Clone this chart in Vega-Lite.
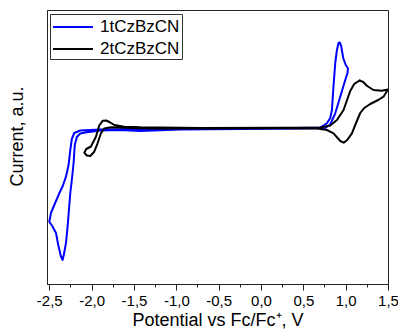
{
  "$schema": "https://vega.github.io/schema/vega-lite/v6.json",
  "width": 341,
  "height": 274,
  "autosize": {"type": "none"},
  "padding": {"left": 47, "top": 10, "right": 10, "bottom": 47},
  "config": {
    "view": {"stroke": "#222", "strokeWidth": 1},
    "font": "Liberation Sans"
  },
  "datasets": {
    "cv": [
      {"s": "1tCzBzCN", "i": 1, "v": -0.717, "c": 0.0},
      {"s": "1tCzBzCN", "i": 2, "v": 0.227, "c": 0.02},
      {"s": "1tCzBzCN", "i": 3, "v": 0.7, "c": 0.1},
      {"s": "1tCzBzCN", "i": 4, "v": 0.779, "c": 0.52},
      {"s": "1tCzBzCN", "i": 5, "v": 0.818, "c": 1.05},
      {"s": "1tCzBzCN", "i": 6, "v": 0.838, "c": 1.85},
      {"s": "1tCzBzCN", "i": 7, "v": 0.853, "c": 3.85},
      {"s": "1tCzBzCN", "i": 8, "v": 0.877, "c": 6.55},
      {"s": "1tCzBzCN", "i": 9, "v": 0.897, "c": 7.85},
      {"s": "1tCzBzCN", "i": 10, "v": 0.916, "c": 8.55},
      {"s": "1tCzBzCN", "i": 11, "v": 0.93, "c": 8.6},
      {"s": "1tCzBzCN", "i": 12, "v": 0.947, "c": 8.25},
      {"s": "1tCzBzCN", "i": 13, "v": 0.971, "c": 7.05},
      {"s": "1tCzBzCN", "i": 14, "v": 1.001, "c": 6.35},
      {"s": "1tCzBzCN", "i": 15, "v": 1.027, "c": 6.02},
      {"s": "1tCzBzCN", "i": 16, "v": 1.022, "c": 5.55},
      {"s": "1tCzBzCN", "i": 17, "v": 0.995, "c": 4.85},
      {"s": "1tCzBzCN", "i": 18, "v": 0.936, "c": 3.18},
      {"s": "1tCzBzCN", "i": 19, "v": 0.877, "c": 1.52},
      {"s": "1tCzBzCN", "i": 20, "v": 0.818, "c": 0.4},
      {"s": "1tCzBzCN", "i": 21, "v": 0.759, "c": 0.05},
      {"s": "1tCzBzCN", "i": 22, "v": 0.463, "c": 0.0},
      {"s": "1tCzBzCN", "i": 23, "v": -0.245, "c": -0.05},
      {"s": "1tCzBzCN", "i": 24, "v": -0.953, "c": -0.1},
      {"s": "1tCzBzCN", "i": 25, "v": -1.426, "c": -0.25},
      {"s": "1tCzBzCN", "i": 26, "v": -1.662, "c": -0.15},
      {"s": "1tCzBzCN", "i": 27, "v": -1.898, "c": -0.2},
      {"s": "1tCzBzCN", "i": 28, "v": -2.075, "c": -0.4},
      {"s": "1tCzBzCN", "i": 29, "v": -2.134, "c": -0.5},
      {"s": "1tCzBzCN", "i": 30, "v": -2.175, "c": -0.85},
      {"s": "1tCzBzCN", "i": 31, "v": -2.199, "c": -1.65},
      {"s": "1tCzBzCN", "i": 32, "v": -2.213, "c": -3.45},
      {"s": "1tCzBzCN", "i": 33, "v": -2.234, "c": -5.15},
      {"s": "1tCzBzCN", "i": 34, "v": -2.252, "c": -6.45},
      {"s": "1tCzBzCN", "i": 35, "v": -2.284, "c": -9.85},
      {"s": "1tCzBzCN", "i": 36, "v": -2.303, "c": -11.45},
      {"s": "1tCzBzCN", "i": 37, "v": -2.329, "c": -12.65},
      {"s": "1tCzBzCN", "i": 38, "v": -2.343, "c": -13.15},
      {"s": "1tCzBzCN", "i": 39, "v": -2.364, "c": -12.75},
      {"s": "1tCzBzCN", "i": 40, "v": -2.394, "c": -11.65},
      {"s": "1tCzBzCN", "i": 41, "v": -2.421, "c": -10.45},
      {"s": "1tCzBzCN", "i": 42, "v": -2.465, "c": -9.75},
      {"s": "1tCzBzCN", "i": 43, "v": -2.5, "c": -9.32},
      {"s": "1tCzBzCN", "i": 44, "v": -2.48, "c": -8.45},
      {"s": "1tCzBzCN", "i": 45, "v": -2.441, "c": -7.65},
      {"s": "1tCzBzCN", "i": 46, "v": -2.382, "c": -6.48},
      {"s": "1tCzBzCN", "i": 47, "v": -2.341, "c": -5.75},
      {"s": "1tCzBzCN", "i": 48, "v": -2.303, "c": -4.82},
      {"s": "1tCzBzCN", "i": 49, "v": -2.272, "c": -3.65},
      {"s": "1tCzBzCN", "i": 50, "v": -2.252, "c": -2.15},
      {"s": "1tCzBzCN", "i": 51, "v": -2.234, "c": -1.05},
      {"s": "1tCzBzCN", "i": 52, "v": -2.205, "c": -0.45},
      {"s": "1tCzBzCN", "i": 53, "v": -2.134, "c": -0.2},
      {"s": "1tCzBzCN", "i": 54, "v": -1.898, "c": -0.1},
      {"s": "1tCzBzCN", "i": 55, "v": -1.426, "c": -0.05},
      {"s": "1tCzBzCN", "i": 56, "v": -0.717, "c": 0.0},
      {"s": "2tCzBzCN", "i": 1, "v": -0.717, "c": 0.05},
      {"s": "2tCzBzCN", "i": 2, "v": 0.227, "c": 0.07},
      {"s": "2tCzBzCN", "i": 3, "v": 0.7, "c": 0.1},
      {"s": "2tCzBzCN", "i": 4, "v": 0.818, "c": 0.3},
      {"s": "2tCzBzCN", "i": 5, "v": 0.897, "c": 0.85},
      {"s": "2tCzBzCN", "i": 6, "v": 0.975, "c": 1.85},
      {"s": "2tCzBzCN", "i": 7, "v": 1.054, "c": 3.75},
      {"s": "2tCzBzCN", "i": 8, "v": 1.101, "c": 4.45},
      {"s": "2tCzBzCN", "i": 9, "v": 1.166, "c": 4.82},
      {"s": "2tCzBzCN", "i": 10, "v": 1.207, "c": 4.65},
      {"s": "2tCzBzCN", "i": 11, "v": 1.254, "c": 4.25},
      {"s": "2tCzBzCN", "i": 12, "v": 1.329, "c": 3.85},
      {"s": "2tCzBzCN", "i": 13, "v": 1.428, "c": 3.78},
      {"s": "2tCzBzCN", "i": 14, "v": 1.499, "c": 3.9},
      {"s": "2tCzBzCN", "i": 15, "v": 1.447, "c": 3.18},
      {"s": "2tCzBzCN", "i": 16, "v": 1.384, "c": 2.85},
      {"s": "2tCzBzCN", "i": 17, "v": 1.29, "c": 2.45},
      {"s": "2tCzBzCN", "i": 18, "v": 1.219, "c": 2.05},
      {"s": "2tCzBzCN", "i": 19, "v": 1.172, "c": 1.55},
      {"s": "2tCzBzCN", "i": 20, "v": 1.113, "c": 0.35},
      {"s": "2tCzBzCN", "i": 21, "v": 1.074, "c": -0.48},
      {"s": "2tCzBzCN", "i": 22, "v": 1.018, "c": -1.15},
      {"s": "2tCzBzCN", "i": 23, "v": 0.977, "c": -1.42},
      {"s": "2tCzBzCN", "i": 24, "v": 0.936, "c": -1.25},
      {"s": "2tCzBzCN", "i": 25, "v": 0.857, "c": -0.48},
      {"s": "2tCzBzCN", "i": 26, "v": 0.779, "c": -0.15},
      {"s": "2tCzBzCN", "i": 27, "v": 0.661, "c": 0.0},
      {"s": "2tCzBzCN", "i": 28, "v": 0.227, "c": 0.03},
      {"s": "2tCzBzCN", "i": 29, "v": -0.717, "c": 0.0},
      {"s": "2tCzBzCN", "i": 30, "v": -1.308, "c": 0.0},
      {"s": "2tCzBzCN", "i": 31, "v": -1.615, "c": 0.07},
      {"s": "2tCzBzCN", "i": 32, "v": -1.772, "c": 0.12},
      {"s": "2tCzBzCN", "i": 33, "v": -1.851, "c": 0.0},
      {"s": "2tCzBzCN", "i": 34, "v": -1.89, "c": -0.48},
      {"s": "2tCzBzCN", "i": 35, "v": -1.93, "c": -1.48},
      {"s": "2tCzBzCN", "i": 36, "v": -1.969, "c": -2.32},
      {"s": "2tCzBzCN", "i": 37, "v": -2.016, "c": -2.75},
      {"s": "2tCzBzCN", "i": 38, "v": -2.057, "c": -2.7},
      {"s": "2tCzBzCN", "i": 39, "v": -2.087, "c": -2.42},
      {"s": "2tCzBzCN", "i": 40, "v": -2.063, "c": -2.05},
      {"s": "2tCzBzCN", "i": 41, "v": -2.008, "c": -1.8},
      {"s": "2tCzBzCN", "i": 42, "v": -1.949, "c": -0.82},
      {"s": "2tCzBzCN", "i": 43, "v": -1.91, "c": 0.3},
      {"s": "2tCzBzCN", "i": 44, "v": -1.868, "c": 0.78},
      {"s": "2tCzBzCN", "i": 45, "v": -1.827, "c": 0.8},
      {"s": "2tCzBzCN", "i": 46, "v": -1.78, "c": 0.6},
      {"s": "2tCzBzCN", "i": 47, "v": -1.733, "c": 0.35},
      {"s": "2tCzBzCN", "i": 48, "v": -1.615, "c": 0.18},
      {"s": "2tCzBzCN", "i": 49, "v": -1.426, "c": 0.12},
      {"s": "2tCzBzCN", "i": 50, "v": -0.717, "c": 0.05}
    ]
  },
  "data": {"name": "cv"},
  "mark": {"type": "line", "strokeWidth": 2, "strokeJoin": "round", "clip": true},
  "encoding": {
    "x": {
      "field": "v",
      "type": "quantitative",
      "scale": {"domain": [-2.527, 1.5], "nice": false, "zero": false},
      "axis": {
        "title": "Potential vs Fc/Fc⁺, V",
        "titleFont": "Liberation Sans",
        "titleFontSize": 18,
        "titleFontWeight": "normal",
        "titleColor": "#000",
        "titlePadding": 3,
        "values": [-2.5, -2.25, -2, -1.75, -1.5, -1.25, -1, -0.75, -0.5, -0.25, 0, 0.25, 0.5, 0.75, 1, 1.25, 1.5],
        "labelExpr": "abs(datum.value*4) % 2 === 0 ? replace(replace(format(datum.value, '.1f'), '.', ','), '−', '-') : ''",
        "labelFont": "Liberation Sans",
        "labelFontSize": 15,
        "labelColor": "#000",
        "labelOverlap": false,
        "labelFlush": false,
        "labelPadding": 3,
        "tickSize": {"condition": {"test": "abs(datum.value*4) % 2 === 0", "value": 6}, "value": 3},
        "tickColor": "#222",
        "tickWidth": 1,
        "domainColor": "#222",
        "grid": false
      }
    },
    "y": {
      "field": "c",
      "type": "quantitative",
      "scale": {"domain": [-15.55, 11.85], "nice": false, "zero": false},
      "axis": {
        "title": "Current, a.u.",
        "titleFont": "Liberation Sans",
        "titleFontSize": 18,
        "titleFontWeight": "normal",
        "titleColor": "#000",
        "titlePadding": 21,
        "titleY": 126,
        "titleAlign": "center",
        "labels": false,
        "ticks": false,
        "grid": false,
        "domainColor": "#222"
      }
    },
    "color": {
      "field": "s",
      "type": "nominal",
      "scale": {"domain": ["1tCzBzCN", "2tCzBzCN"], "range": ["#0000ff", "#000000"]},
      "legend": {
        "title": null,
        "orient": "none",
        "legendX": 3,
        "legendY": 4,
        "symbolType": "M-2,0H2",
        "symbolSize": 400,
        "symbolStrokeWidth": 2,
        "symbolOffset": 10,
        "labelFont": "Liberation Sans",
        "labelFontSize": 17,
        "labelColor": "#000",
        "labelOffset": 16,
        "strokeColor": "#333",
        "fillColor": "#fff",
        "padding": 2,
        "rowPadding": 3
      }
    },
    "order": {"field": "i", "type": "quantitative"}
  }
}
